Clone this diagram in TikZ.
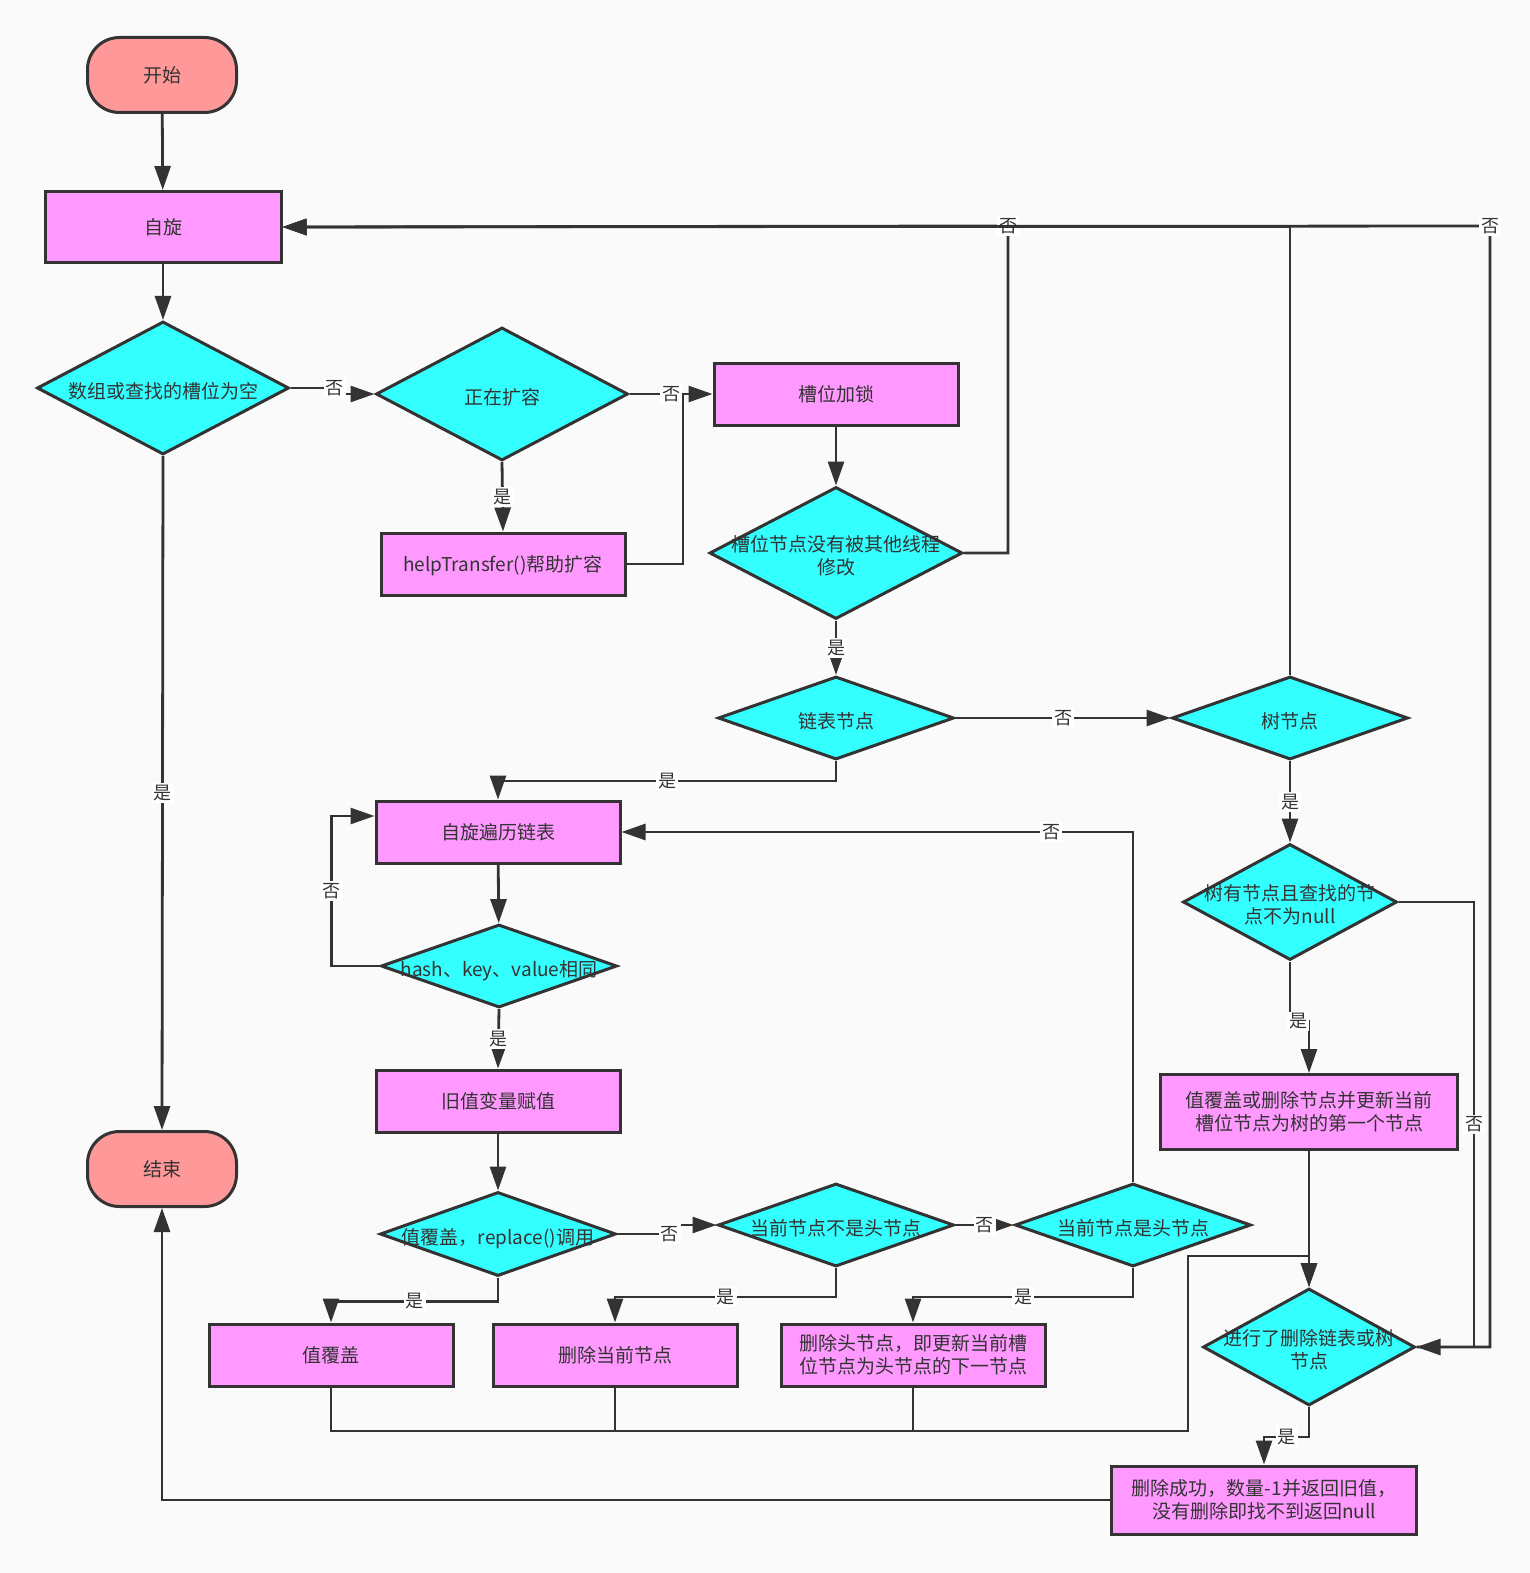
\documentclass[tikz,border=0pt]{standalone}
\usepackage{fontspec}
\setmainfont{Noto Sans CJK SC}
\usepackage{tikz}
\usetikzlibrary{shapes.geometric,arrows.meta}

\definecolor{ink}{HTML}{333333}
\definecolor{paper}{HTML}{FAFAFA}
\definecolor{termred}{HTML}{FF9999}
\definecolor{procpink}{HTML}{FF99FF}
\definecolor{condcyan}{HTML}{33FFFF}

\newcommand{\ptext}[1]{\raisebox{0pt}[\dimexpr\height+2.5pt\relax][\depth]{\begin{tabular}{@{}c@{}}#1\end{tabular}}}
\newcommand{\dtext}[1]{\makebox[0pt]{\raisebox{0pt}[\dimexpr\height+5.5pt\relax][\depth]{\begin{tabular}{@{}c@{}}#1\end{tabular}}}}

\begin{document}
\begin{tikzpicture}[x=0.5pt, y=-0.5pt,
      font=\fontsize{9.5}{11.5}\selectfont, text=ink,
      term/.style={draw=ink, line width=1.5pt, fill=termred, rounded corners=16pt, minimum width=74.5pt, minimum height=37.5pt},
      proc/.style={draw=ink, line width=1.5pt, fill=procpink, minimum width=122pt, minimum height=31pt, inner sep=2pt},
      cond/.style={draw=ink, line width=1.5pt, fill=condcyan, diamond, inner sep=0pt, minimum width=118pt, minimum height=41.5pt},
      flow/.style={draw=ink, line width=1.4pt, -{Triangle[length=12pt,width=8pt]}},
      wire/.style={draw=ink, line width=1.4pt},
      lbl/.style={fill=white, inner sep=1pt, font=\fontsize{9}{10}\selectfont}]
      \fill[paper] (0,0) rectangle (1530,1573);

      \node[term] (start) at (162,75) {\ptext{开始}};
      \node[proc, minimum width=118pt, minimum height=35.5pt] (spin) at (163,227) {\ptext{自旋}};
      \node[cond, minimum width=126pt, minimum height=66.5pt] (empty) at (163,388) {\dtext{数组或查找的槽位为空}};
      \node[cond, minimum width=126pt, minimum height=66.5pt] (expanding) at (502,394) {\dtext{正在扩容}};
      \node[proc] (lock) at (836,394) {\ptext{槽位加锁}};
      \node[proc] (help) at (503,564) {\ptext{helpTransfer()帮助扩容}};
      \node[cond, minimum width=126.5pt, minimum height=66pt] (unchanged) at (836,553) {\dtext{槽位节点没有被其他线程\\修改}};
      \node[cond] (listnode) at (836,718) {\dtext{链表节点}};
      \node[cond] (treenode) at (1290,718) {\dtext{树节点}};
      \node[proc] (walk) at (498,832) {\ptext{自旋遍历链表}};
      \node[cond] (same) at (499,966) {\dtext{hash、key、value相同}};
      \node[proc] (oldval) at (498,1101) {\ptext{旧值变量赋值}};
      \node[term] (finish) at (162,1169) {\ptext{结束}};
      \node[cond, minimum height=42pt] (replace) at (498,1234) {\dtext{值覆盖，replace()调用}};
      \node[cond] (nothead) at (836,1225) {\dtext{当前节点不是头节点}};
      \node[cond] (ishead) at (1133,1225) {\dtext{当前节点是头节点}};
      \node[proc] (cover) at (331,1355) {\ptext{值覆盖}};
      \node[proc] (delcur) at (615,1355) {\ptext{删除当前节点}};
      \node[proc, minimum width=132pt] (delhead) at (913,1355) {\ptext{删除头节点，即更新当前槽\\位节点为头节点的下一节点}};
      \node[cond, minimum width=107pt, minimum height=58pt] (treefind) at (1290,902) {\dtext{树有节点且查找的节\\点不为null}};
      \node[proc, minimum width=148.5pt, minimum height=37.5pt] (treeupd) at (1309,1112) {\ptext{值覆盖或删除节点并更新当前\\槽位节点为树的第一个节点}};
      \node[cond, minimum width=106pt, minimum height=58.5pt] (deldone) at (1309,1347) {\dtext{进行了删除链表或树\\节点}};
      \node[proc, minimum width=152.5pt, minimum height=34pt] (success) at (1264,1500) {\ptext{删除成功，数量-1并返回旧值，\\没有删除即找不到返回null}};

      \coordinate (helpjoin) at (683,394);
      \coordinate (topA) at (1008,226);
      \coordinate (topB) at (1490,226);
      \coordinate (rightA) at (1474,1347);
      \coordinate (busR) at (1188,1431);
      \coordinate (busT) at (1188,1256);

      \draw[flow] (start) -- (spin);
      \draw[flow] (spin) -- (empty);
      \draw[flow] (empty.east) -- ++(44,0) node[lbl]{否} |- (expanding.west);
      \draw[flow] (expanding.east) -- node[lbl]{否} (lock.west);
      \draw[flow] (expanding.south) -- node[lbl]{是} (help.north);
      \draw[wire] (help.east) -| (helpjoin);
      \draw[flow] (lock) -- (unchanged);
      \draw[flow] (unchanged.east) -| (topA) node[lbl]{否} -- (spin.east);
      \draw[flow] (treenode.north) |- (spin.east);
      \draw[flow] (deldone.east) -| (topB) node[lbl]{否} -- (spin.east);
      \draw[flow] (unchanged.south) -- node[lbl]{是} (listnode.north);
      \draw[flow] (listnode.east) -- node[lbl]{否} (treenode.west);
      \draw[flow] (listnode.south) -- ++(0,20) -| node[lbl,pos=0.25]{是} (walk.north);
      \draw[flow] (treenode.south) -- node[lbl]{是} (treefind.north);
      \draw[flow] (treefind.south) -- ++(0,60) node[lbl,xshift=4pt]{是} -| (treeupd.north);
      \draw[flow] (treefind.east) -| node[lbl,pos=0.75]{否} (rightA) -- (deldone.east);
      \draw[flow] (walk) -- (same);
      \draw[flow] (same.west) -- ++(-48,0) |- node[lbl,pos=0.25]{否} ([yshift=8pt]walk.west);
      \draw[flow] (same.south) -- node[lbl]{是} (oldval.north);
      \draw[flow] (oldval) -- (replace);
      \draw[flow] (replace.south) -- ++(0,24) -| node[lbl,pos=0.25]{是} (cover.north);
      \draw[flow] (replace.east) -- ++(52,0) node[lbl]{否} |- (nothead.west);
      \draw[flow] (nothead.south) -- ++(0,29) -| node[lbl,pos=0.25]{是} (delcur.north);
      \draw[flow] (nothead.east) -- node[lbl]{否} (ishead.west);
      \draw[flow] (ishead.south) -- ++(0,29) -| node[lbl,pos=0.25]{是} (delhead.north);
      \draw[flow] (ishead.north) |- node[lbl,pos=0.58]{否} (walk.east);
      \draw[flow] (cover.south) |- (busR) -- (busT) -| (deldone.north);
      \draw[wire] (delcur.south) -- (delcur.south |- busR);
      \draw[wire] (delhead.south) -- (delhead.south |- busR);
      \draw[flow] (treeupd) -- (deldone);
      \draw[flow] (deldone.south) -- ++(0,30) -| node[lbl,pos=0.25]{是} (success.north);
      \draw[flow] (success.west) -| (finish.south);
      \draw[flow] (empty.south) -- node[lbl]{是} (finish.north);
\end{tikzpicture}
\end{document}
